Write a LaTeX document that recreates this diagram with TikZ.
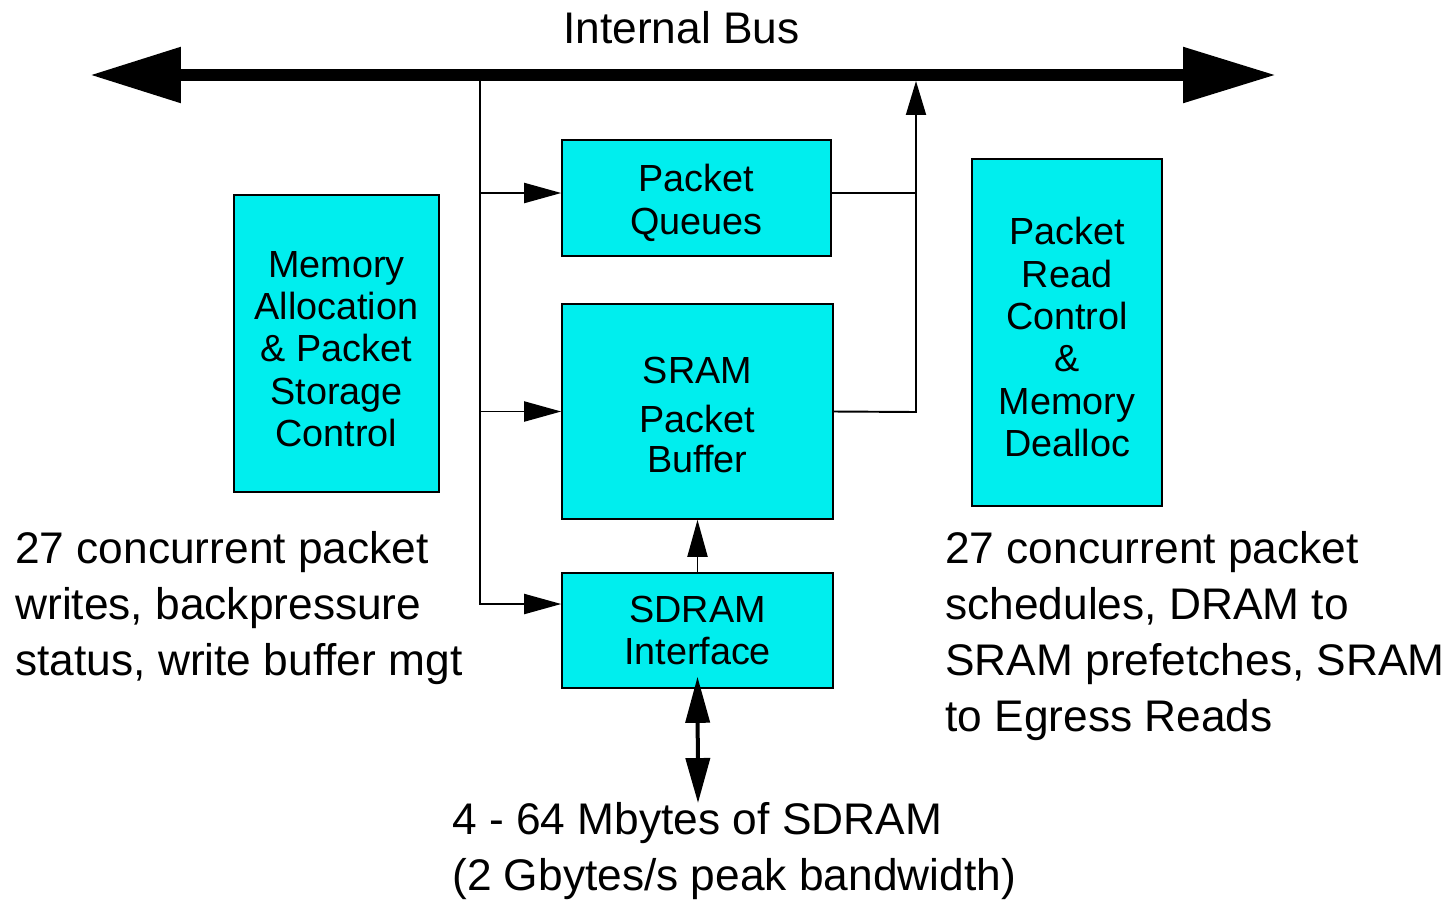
\documentclass[tikz,border=0pt]{standalone}
\usepackage{fontspec}
\setmainfont{Liberation Sans}
\usetikzlibrary{arrows.meta}
\definecolor{unitcyan}{RGB}{0,238,238}
% invisible strut that lowers a block's text a little inside its box
\newcommand{\toppad}[1]{\rule{0pt}{#1}}
\tikzset{
  unit/.style={draw=black, line width=0.9pt, fill=unitcyan, inner sep=0pt,
    align=center, font=\fontsize{21.5}{24.1}\selectfont},
  link/.style={line width=1.1pt},
  tipS/.style={-{Triangle[length=0.74cm,width=0.4cm]}},
  % multi-line captions are anchored on the baseline of their last line
  caption/.style={inner sep=0pt, align=left, anchor=base west,
    font=\fontsize{25.2}{31.7}\selectfont},
}
\begin{document}
\begin{tikzpicture}[x=0.02cm,y=-0.02cm]
\useasboundingbox (0,0) rectangle (1454,900);

% functional blocks
\node[unit, minimum width=5.38cm, minimum height=2.32cm] (pq) at (696.5,198) {\toppad{21pt}Packet\\Queues};
\node[unit, minimum width=5.42cm, minimum height=4.30cm,
      font=\fontsize{21.5}{22.7}\selectfont] (sram) at (697.5,411.5) {\toppad{19pt}SRAM\\[5.6pt]Packet\\Buffer};
\node[unit, minimum width=5.42cm, minimum height=2.30cm] (sdram) at (697.5,630.5) {SDRAM\\Interface};
\node[unit, minimum width=4.10cm, minimum height=5.94cm] (alloc) at (336.5,343.5) {\toppad{21pt}Memory\\Allocation\\\& Packet\\Storage\\Control};
\node[unit, minimum width=3.80cm, minimum height=6.94cm] (rdctl) at (1067,332.5) {\toppad{21pt}Packet\\Read\\Control\\\&\\Memory\\Dealloc};

% bus end points and taps
\coordinate (busL) at (90,75);
\coordinate (busR) at (1276,75);
\coordinate (tapL) at (480,75);
\coordinate (riser) at (916,412);
\coordinate (busTap) at (916,81);
\coordinate (pqIn) at ([yshift=0.1cm]pq.west);
\coordinate (pqOut) at ([yshift=0.1cm]pq.east);
\coordinate (sdIn) at ([yshift=0.53cm]sdram.west);
\coordinate (sdPort) at ([yshift=0.24cm]sdram.south);
\coordinate (memBot) at (698,803);

% fan-out from the bus
\draw[link, tipS] (tapL) |- (sdIn);
\draw[link, tipS] (tapL |- sram.west) -- (sram.west);
\draw[link, tipS] (pqIn -| tapL) -- (pqIn);

% return path to the bus
\draw[link] (pqOut) -- (pqOut -| riser);
\draw[link, -{Triangle[length=0.68cm,width=0.4cm]}] (sram.east) -- (riser) -- (busTap);

% SDRAM to SRAM
\draw[link, tipS] (sdram.north) -- (sram.south);

% external SDRAM port
\draw[line width=0.08cm, {Triangle[length=0.92cm,width=0.48cm]}-{Triangle[length=0.9cm,width=0.48cm]}] (sdPort) -- (memBot);

% internal bus
\draw[line width=0.24cm, {Triangle[length=1.82cm,width=1.06cm]}-{Triangle[length=1.86cm,width=1.06cm]}] (busL) -- (busR);

% captions
\node[caption] (busname) at (563,43) {Internal Bus};
\node[caption] (wnote) at (15,675) {27 concurrent packet\\writes, backpressure\\status, write buffer mgt};
\node[caption] (rnote) at (945,731) {27 concurrent packet\\schedules, DRAM to\\SRAM prefetches, SRAM\\to Egress Reads};
\node[caption] (memnote) at (452,890) {4 - 64 Mbytes of SDRAM\\(2 Gbytes/s peak bandwidth)};
\end{tikzpicture}
\end{document}
